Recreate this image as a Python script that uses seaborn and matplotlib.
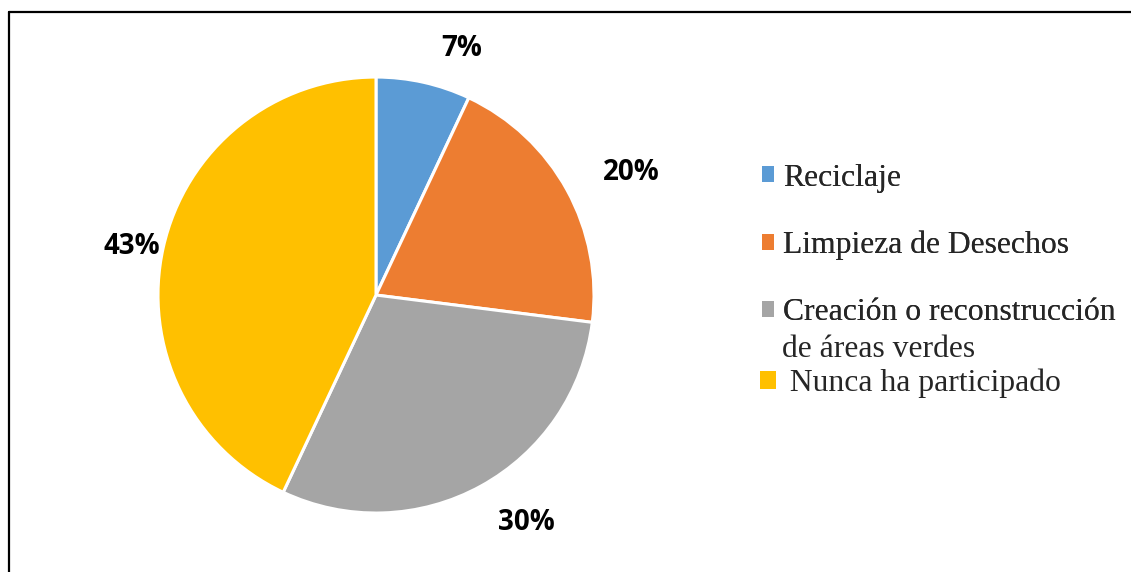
import numpy as np
import matplotlib
matplotlib.use("Agg")
import matplotlib.pyplot as plt
import seaborn as sns
from matplotlib.patches import Patch
from matplotlib.lines import Line2D

# data
categories = ["Reciclaje", "Limpieza de Desechos",
              "Creación o reconstrucción\nde áreas verdes", "Nunca ha participado"]
percent = [7, 20, 30, 43]
colors = ["#5B9BD5", "#ED7D31", "#A5A5A5", "#FFC000"]

sns.set_style("white")
plt.rcParams["font.family"] = ["DejaVu Sans"]

fig = plt.figure(figsize=(11.31, 5.72), dpi=100)
# pie area: centre ~ (376, 295) px, radius ~ 218 px
ax = fig.add_axes([0.1397, 0.1031, 0.3855, 0.7622])

wedges, texts = ax.pie(
    percent, colors=colors, startangle=90, counterclock=False,
    labels=[f"{p}%" for p in percent],
    wedgeprops=dict(edgecolor="white", linewidth=2.2),
    textprops=dict(family="Open Sans", fontweight="bold", fontsize=20, color="black"),
)
# excel-style "outside end" placement: nudge each label off its wedge middle
label_r = [1.20, 1.30, 1.25, 1.14]
label_shift = [-6.6, -3.2, 4.7, 1.4]
for w, t, r, s in zip(wedges, texts, label_r, label_shift):
    ang = np.deg2rad((w.theta1 + w.theta2) / 2 + s)
    t.set_position((r * np.cos(ang), r * np.sin(ang)))
    t.set_ha("center")
    t.set_va("center")
ax.set_xlim(-1, 1)
ax.set_ylim(-1, 1)
ax.set_aspect("equal")
ax.axis("off")

legend_font = dict(family="Liberation Serif", size=22.8)
handles = [Patch(facecolor=c, edgecolor="none") for c in colors]
blank = Patch(facecolor="none", edgecolor="none")
first_line, second_line = categories[2].split("\n")

leg1 = fig.legend(handles[:3], categories[:2] + [first_line], loc="upper left",
                  bbox_to_anchor=(0.6737, 0.714), frameon=False, prop=legend_font,
                  handlelength=0.38, handleheight=0.38, handletextpad=0.28,
                  labelspacing=1.2, borderpad=0, borderaxespad=0)
fig.add_artist(leg1)

leg2 = fig.legend([blank, handles[3]], [second_line, " " + categories[3]], loc="upper left",
                  bbox_to_anchor=(0.672, 0.415), frameon=False, prop=legend_font,
                  handlelength=0.5, handleheight=0.5, handletextpad=0.2,
                  labelspacing=0.16, borderpad=0, borderaxespad=0)

# border lines (top and left only, as in the reference)
fig.add_artist(Line2D([8.5 / 1131, 1], [1 - 11.5 / 572] * 2, transform=fig.transFigure,
                      color="black", linewidth=1.6))
fig.add_artist(Line2D([8.5 / 1131] * 2, [0, 1 - 11.5 / 572], transform=fig.transFigure,
                      color="black", linewidth=1.6))

fig.savefig("out.png", dpi=100)
